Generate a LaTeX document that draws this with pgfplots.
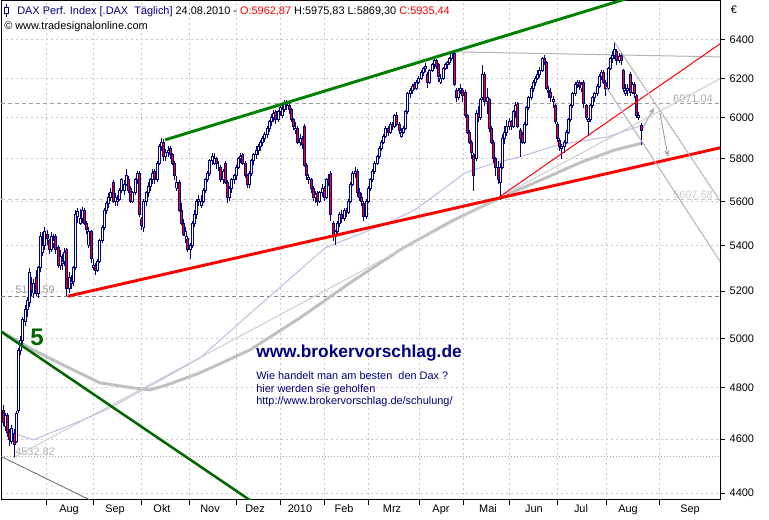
\documentclass[border=0pt]{standalone}
\usepackage{pgfplots}
\pgfplotsset{compat=1.18}
\usepackage{pgfplotstable}
\usepackage{fontspec}
\setmainfont{Liberation Sans}
\usetikzlibrary{arrows.meta}
\definecolor{candle}{HTML}{000080}
\definecolor{ugreen}{HTML}{008000}
\definecolor{lgreen}{HTML}{006600}
\definecolor{ma200}{HTML}{C0C0C0}
\definecolor{lav}{HTML}{BDBDE3}
\definecolor{ltrend}{HTML}{CDCDCD}
\definecolor{gridc}{HTML}{C8C8C8}
\definecolor{projc}{HTML}{B4B4B4}

% daily DAX candles (row k is drawn at pixel x = 3 + 2.2 k)
\pgfplotstableread{
o h l c
4710 4730 4650 4665
4650 4700 4630 4690
4690 4700 4610 4625
4625 4640 4575 4600
4590 4655 4580 4640
4620 4640 4532.82 4580
4590 4710 4585 4700
4710 4960 4700 4950
4950 5010 4930 4990
4990 5090 4970 5080
5070 5140 5050 5120
5120 5175 5090 5160
5150 5300 5130 5280
5230 5260 5180 5200
5190 5250 5170 5230
5260 5290 5180 5190
5190 5310 5170 5300
5300 5460 5280 5440
5370 5460 5350 5400
5400 5480 5380 5460
5450 5470 5400 5430
5420 5430 5360 5380
5380 5460 5370 5440
5410 5450 5390 5420
5440 5450 5360 5380
5390 5400 5300 5310
5310 5380 5290 5350
5320 5360 5290 5330
5330 5390 5310 5370
5380 5390 5177.59 5210
5210 5280 5190 5260
5230 5270 5210 5240
5240 5310 5220 5300
5300 5560 5290 5540
5530 5570 5500 5555
5500 5565 5490 5520
5520 5575 5500 5560
5560 5570 5490 5500
5500 5510 5450 5470
5400 5480 5390 5460
5460 5470 5320 5340
5300 5340 5290 5310
5310 5320 5270 5290
5290 5340 5280 5330
5330 5430 5320 5420
5420 5490 5410 5480
5480 5570 5470 5560
5560 5600 5540 5590
5590 5640 5570 5620
5620 5660 5600 5640
5690 5700 5590 5600
5600 5640 5580 5620
5600 5630 5580 5610
5610 5660 5600 5650
5650 5710 5640 5700
5650 5700 5630 5680
5680 5750 5670 5720
5700 5720 5640 5650
5660 5670 5590 5600
5600 5650 5590 5640
5640 5710 5630 5700
5700 5740 5680 5730
5730 5740 5530 5540
5520 5530 5470 5490
5480 5610 5460 5600
5600 5650 5580 5640
5640 5690 5620 5670
5670 5710 5650 5700
5700 5750 5680 5730
5740 5750 5680 5700
5700 5790 5690 5780
5780 5870 5770 5860
5860 5900 5840 5880
5880 5895 5790 5810
5810 5850 5790 5830
5830 5860 5810 5840
5850 5860 5800 5820
5820 5830 5770 5780
5780 5790 5700 5720
5660 5720 5650 5690
5690 5700 5550 5560
5560 5590 5490 5500
5500 5520 5440 5450
5440 5480 5410 5460
5430 5440 5370 5380
5380 5410 5340 5400
5400 5510 5390 5500
5500 5560 5480 5540
5540 5610 5520 5600
5600 5630 5580 5610
5580 5630 5570 5600
5600 5660 5590 5650
5650 5710 5640 5700
5700 5740 5690 5730
5730 5800 5720 5790
5790 5830 5770 5810
5780 5830 5770 5800
5800 5810 5750 5780
5760 5790 5740 5760
5760 5770 5690 5700
5700 5750 5680 5740
5780 5790 5680 5690
5690 5700 5590 5620
5620 5670 5600 5660
5660 5710 5640 5700
5700 5730 5680 5720
5720 5770 5700 5760
5760 5810 5750 5800
5800 5830 5780 5810
5820 5830 5770 5780
5780 5790 5710 5720
5720 5730 5660 5680
5680 5740 5660 5730
5730 5800 5720 5790
5790 5830 5770 5820
5820 5860 5800 5840
5840 5870 5820 5860
5860 5890 5840 5880
5880 5910 5860 5900
5900 5930 5880 5920
5920 5960 5900 5950
5950 5990 5930 5980
5980 6020 5960 6000
6000 6040 5980 6020
6030 6040 5970 5990
5990 6040 5980 6030
6030 6070 6010 6050
6010 6070 6000 6040
6040 6090 6030 6070
6070 6090 6040 6060
6060 6080 6020 6040
6040 6050 5980 5990
5990 6000 5940 5960
5940 5980 5920 5950
5950 5960 5870 5880
5880 5920 5860 5900
5900 5910 5850 5870
5960 5970 5760 5770
5770 5780 5700 5720
5700 5730 5680 5710
5700 5710 5640 5660
5660 5670 5600 5620
5620 5650 5590 5630
5640 5650 5580 5600
5600 5650 5590 5640
5640 5680 5620 5660
5660 5670 5600 5620
5620 5710 5610 5700
5700 5730 5670 5690
5730 5740 5510 5540
5500 5510 5420 5440
5440 5470 5400 5460
5460 5510 5440 5500
5500 5550 5480 5540
5540 5560 5500 5520
5520 5570 5510 5560
5560 5570 5530 5550
5550 5610 5540 5600
5600 5690 5590 5680
5680 5740 5670 5730
5730 5760 5710 5740
5740 5750 5620 5640
5640 5660 5600 5620
5620 5640 5580 5600
5590 5600 5510 5530
5530 5610 5520 5600
5600 5670 5590 5660
5660 5710 5650 5700
5700 5750 5690 5740
5740 5790 5730 5780
5780 5820 5770 5810
5810 5860 5800 5850
5850 5890 5840 5880
5880 5920 5870 5910
5910 5960 5900 5950
5950 5960 5910 5930
5930 5980 5920 5970
5970 5980 5940 5960
5960 6020 5950 6010
6010 6030 5960 5970
5970 5980 5920 5940
5910 5950 5900 5930
5930 5960 5920 5950
5950 6040 5940 6030
6030 6130 6020 6120
6120 6150 6100 6140
6140 6170 6120 6160
6170 6180 6140 6150
6150 6190 6140 6180
6180 6210 6170 6200
6200 6240 6190 6230
6230 6260 6210 6250
6250 6280 6230 6260
6220 6230 6150 6180
6180 6250 6170 6240
6240 6280 6230 6270
6270 6300 6250 6290
6290 6300 6250 6260
6270 6280 6180 6210
6180 6220 6170 6200
6200 6260 6190 6250
6250 6280 6240 6270
6270 6290 6250 6280
6280 6310 6270 6300
6300 6341 6290 6330
6330 6335 6160 6170
6140 6150 6080 6100
6100 6150 6090 6140
6140 6170 6120 6150
6140 6150 6080 6110
6130 6140 6000 6010
6010 6020 5920 5930
5930 5940 5870 5880
5880 5890 5800 5830
5820 5830 5650 5720
5800 6040 5790 6020
6020 6060 5980 6000
6000 6100 5990 6090
6100 6270 6090 6220
6220 6230 6060 6080
6080 6150 6020 6100
6090 6100 5930 5950
5950 5960 5870 5880
5880 5890 5780 5800
5800 5810 5720 5760
5760 5790 5680 5700
5690 5780 5607.68 5760
5760 5920 5750 5900
5900 5960 5870 5930
5930 5990 5910 5960
5960 6000 5940 5980
5980 5990 5940 5960
5960 6040 5950 6030
6030 6080 6000 6060
6070 6080 5950 5960
5940 5950 5810 5900
5920 5930 5870 5880
5880 5980 5870 5970
5970 6060 5960 6050
6050 6110 6040 6100
6100 6160 6090 6150
6150 6190 6130 6180
6180 6210 6160 6200
6200 6240 6190 6220
6220 6260 6200 6240
6240 6310 6230 6300
6300 6320 6270 6280
6280 6290 6140 6150
6140 6160 6100 6130
6130 6150 6080 6100
6080 6110 6050 6090
6060 6070 5970 5980
5970 5980 5880 5900
5890 5900 5840 5860
5850 5870 5800 5860
5860 5890 5830 5880
5880 5940 5870 5930
5930 6000 5920 5990
5990 6070 5980 6060
6060 6130 6050 6120
6120 6180 6110 6170
6170 6190 6150 6180
6180 6190 6140 6160
6150 6180 6130 6170
6180 6190 6050 6070
6060 6070 5990 6000
5980 6000 5910 5990
5990 6070 5980 6060
6060 6110 6050 6100
6100 6130 6080 6120
6120 6170 6110 6160
6160 6220 6150 6210
6210 6240 6190 6230
6230 6240 6170 6180
6180 6190 6110 6150
6150 6260 6140 6250
6250 6310 6240 6300
6300 6340 6280 6320
6320 6386 6300 6350
6340 6350 6270 6290
6290 6330 6280 6310
6320 6330 6270 6290
6240 6250 6130 6150
6120 6170 6110 6140
6140 6170 6110 6150
6220 6230 6110 6130
6130 6180 6120 6170
6170 6180 6100 6120
6110 6120 6000 6010
6000 6030 5990 6010
5962.87 5975.83 5869.30 5935.44
}\candles

\pgfplotstableforeachcolumnelement{o}\of\candles\as\cell{\expandafter\xdef\csname cO\pgfplotstablerow\endcsname{\cell}}
\pgfplotstableforeachcolumnelement{h}\of\candles\as\cell{\expandafter\xdef\csname cH\pgfplotstablerow\endcsname{\cell}}
\pgfplotstableforeachcolumnelement{l}\of\candles\as\cell{\expandafter\xdef\csname cL\pgfplotstablerow\endcsname{\cell}}
\pgfplotstableforeachcolumnelement{c}\of\candles\as\cell{\expandafter\xdef\csname cC\pgfplotstablerow\endcsname{\cell}}

\newcommand\PXY[2]{({(#1-1)*0.75pt},{(500-#2)*0.75pt})}
\newcommand\sm{\fontsize{8.2}{10}\selectfont}

\begin{document}
\begin{tikzpicture}
\useasboundingbox \PXY{0}{520} rectangle \PXY{769}{0};
\fill[white] \PXY{0}{520} rectangle \PXY{769}{0};
\begin{axis}[
  at={(0,0)}, anchor=south west,
  scale only axis, width=539.25pt, height=374.25pt,
  xmin=1, xmax=720,
  ymode=log, ymin=4375, ymax=6610,
  yminorticks=false,
  ytick={4400,4600,4800,5000,5200,5400,5600,5800,6000,6200,6400},
  yticklabels={4400,4600,4800,5000,5200,5400,5600,5800,6000,6200,6400},
  ytick pos=right, yticklabel pos=right,
  xtick={46.5,93,141,189.5,236,280,324,368,419,463,509.5,557.5,606,659},
  xticklabels={},
  xtick pos=left,
  extra x ticks={69,115,162,210,255,300,344,392,441,488,534,581,628,690},
  extra x tick labels={Aug,Sep,Okt,Nov,Dez,2010,Feb,Mrz,Apr,Mai,Jun,Jul,Aug,Sep},
  extra x tick style={major tick length=0pt, grid=none},
  tick align=outside,
  major tick length=3.75pt,
  tick style={black, line width=0.6pt},
  grid=major,
  major grid style={gridc, dash pattern=on 1.5pt off 2.25pt, line width=0.6pt},
  axis line style={black, line width=0.75pt},
  ticklabel style={font=\sm, text=black},
  clip=true,
]
% horizontal levels
\addplot[draw=black!50, dash pattern=on 3pt off 2.25pt, line width=0.75pt] coordinates {(1,5177.59) (720,5177.59)};
\addplot[draw=black!38, dash pattern=on 3pt off 2.25pt, line width=0.75pt] coordinates {(1,6071.04) (720,6071.04)};
\addplot[draw=black!22, dash pattern=on 3pt off 2.25pt, line width=0.75pt] coordinates {(1,5607.68) (720,5607.68)};
\addplot[draw=black!38, dash pattern=on 0.75pt off 1.5pt, line width=0.75pt] coordinates {(1,4532.82) (720,4532.82)};
\node[anchor=base west, inner sep=0, font=\sm, text=black!38] at (rel axis cs:0.0195,0.4128) {5177,59};
\node[anchor=base west, inner sep=0, font=\sm, text=black!30] at (rel axis cs:0.0195,0.0892) {4532,82};
\node[anchor=base west, inner sep=0, font=\sm, text=black!33] at (rel axis cs:0.9346,0.7956) {6071,04};
\node[anchor=base west, inner sep=0, font=\sm, text=black!20] at (rel axis cs:0.9346,0.6032) {5607,68};
% moving averages and light trend line
\addplot[ma200, line width=2.2pt] coordinates {(1,5030) (33,4952.5) (67,4883.4) (100,4819.1) (133,4799.3) (150,4791.4) (167,4811.3) (200,4859.3) (250,4952.5) (300,5085.4) (350,5234.7) (400,5379.5) (450,5505.5) (500,5616.0) (548,5714.4) (582,5785.7) (615,5843.5) (643,5877.3)};
\addplot[ltrend, line width=0.75pt] coordinates {(13,4529.4) (720,6196.8)};
\addplot[lav, line width=0.75pt] coordinates {(13,4624) (33,4597.3) (83,4674.0) (110,4720.6) (143,4791.4) (200,4919.8) (260,5140.3) (325,5388.4) (390,5505.5) (415,5560.5) (465,5733.3) (495,5780.9) (520,5809.7) (558,5867.6) (608,5906.6) (643,5965.5)};
\addplot[projc, line width=0.75pt] coordinates {(453,6336.8) (720,6310.5)};
% candles
\pgfplotsforeachungrouped \k in {0,...,290}{%
  \edef\co{\csname cO\k\endcsname}%
  \edef\ch{\csname cH\k\endcsname}%
  \edef\cl{\csname cL\k\endcsname}%
  \edef\cc{\csname cC\k\endcsname}%
  \pgfmathsetmacro\cx{3+2.2*\k}%
  \pgfmathsetmacro\xa{\cx-1.0}%
  \pgfmathsetmacro\xb{\cx+1.0}%
  \ifdim\cc pt<\co pt \def\fc{red}\else\def\fc{white}\fi
  \edef\tmp{\noexpand\addplot[forget plot, draw=candle, line width=0.75pt] coordinates {(\cx,\cl) (\cx,\ch)};%
    \noexpand\addplot[forget plot, draw=candle, fill=\fc, line width=0.7pt] coordinates {(\xa,\co) (\xb,\co) (\xb,\cc) (\xa,\cc) (\xa,\co)};}%
  \tmp
}
% trend lines
\addplot[ugreen, line width=2.2pt] coordinates {(165,5892.0) (640,6643.8)};
\addplot[lgreen, line width=1.9pt] coordinates {(0,5030.9) (260,4349.4)};
\addplot[black!60, line width=0.6pt] coordinates {(0,4536.9) (100,4356.6)};
\addplot[red, line width=2.2pt] coordinates {(68,5177.59) (720,5853.1)};
\addplot[red, line width=0.75pt] coordinates {(498,5616.0) (720,6378.9)};
\addplot[projc, line width=0.75pt] coordinates {(614.6,6386) (720,5602)};
\addplot[projc, line width=0.75pt] coordinates {(606,6157) (720,5329)};
\addplot[black!35, line width=0.75pt, -{Stealth[length=5pt,width=4pt]}] coordinates {(643,5950.7) (654,6050)};
\addplot[black!35, line width=0.75pt, -{Stealth[length=5pt,width=4pt]}] coordinates {(660,6025) (668,5809.7)};
\end{axis}
% header
\draw[candle, line width=0.75pt] \PXY{7}{4} -- \PXY{7}{17};
\draw[candle, fill=white, line width=0.75pt] \PXY{5}{7.5} rectangle \PXY{9}{13.5};
\node[anchor=base west, inner sep=0, font=\sm] at \PXY{17}{14.5} {\textcolor{candle}{DAX Perf. Index [.DAX\ \ Täglich]} 24.08.2010 - \textcolor{red}{O:5962,87} H:5975,83 L:5869,30 \textcolor{red}{C:5935,44}};
\node[anchor=base west, inner sep=0, font=\sm] at \PXY{4}{29.5} {© www.tradesignalonline.com};
\node[font=\sm] at \PXY{734}{10} {€};
% annotations
\node[font=\fontsize{18}{20}\bfseries\selectfont, text=lgreen] at \PXY{37}{337} {5};
\node[anchor=base west, inner sep=0, font=\fontsize{13}{15}\bfseries\selectfont, text=candle] at \PXY{256}{358} {www.brokervorschlag.de};
\node[anchor=base west, inner sep=0, font=\sm, text=candle] at \PXY{256}{380} {Wie handelt man am besten\ \ den Dax ?};
\node[anchor=base west, inner sep=0, font=\sm, text=candle] at \PXY{256}{393} {hier werden sie geholfen};
\node[anchor=base west, inner sep=0, font=\sm, text=candle] at \PXY{256}{405} {http://www.brokervorschlag.de/schulung/};
\end{tikzpicture}
\end{document}
